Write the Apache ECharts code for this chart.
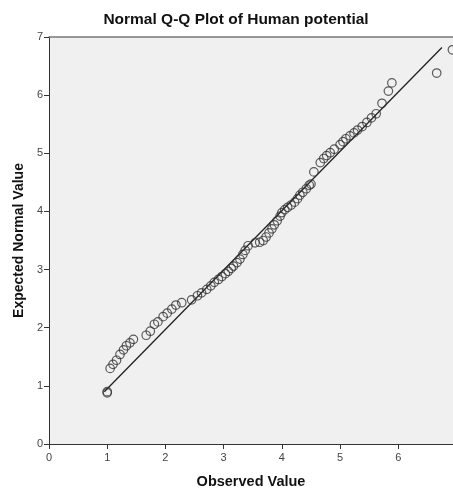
<!DOCTYPE html>
<html>
<head>
<meta charset="utf-8">
<script src="https://cdn.jsdelivr.net/npm/echarts@6/dist/echarts.min.js"></script>
<style>html,body{margin:0;padding:0;background:#fff}#c{width:453px;height:489px}</style>
</head>
<body>
<div id="c"></div>
<script>
var observed = [1.0, 1.0, 1.05, 1.10, 1.16, 1.22, 1.28, 1.33, 1.39, 1.45, 1.67, 1.74, 1.81, 1.87, 1.96, 2.03, 2.11, 2.18, 2.28, 2.45, 2.55, 2.62, 2.71, 2.78, 2.84, 2.91, 2.97, 3.03, 3.08, 3.13, 3.17, 3.23, 3.28, 3.33, 3.37, 3.42, 3.54, 3.62, 3.68, 3.73, 3.78, 3.83, 3.87, 3.92, 3.97, 4.00, 4.05, 4.10, 4.16, 4.22, 4.27, 4.31, 4.36, 4.42, 4.47, 4.50, 4.55, 4.66, 4.72, 4.77, 4.83, 4.90, 5.00, 5.05, 5.10, 5.17, 5.24, 5.30, 5.38, 5.46, 5.54, 5.62, 5.72, 5.83, 5.89, 6.66, 6.93];
var expected = [0.88, 0.90, 1.30, 1.37, 1.44, 1.54, 1.62, 1.69, 1.74, 1.80, 1.87, 1.94, 2.06, 2.10, 2.19, 2.25, 2.32, 2.39, 2.43, 2.48, 2.55, 2.60, 2.66, 2.72, 2.78, 2.83, 2.88, 2.93, 2.97, 3.02, 3.06, 3.12, 3.18, 3.26, 3.33, 3.41, 3.46, 3.47, 3.50, 3.56, 3.63, 3.70, 3.77, 3.84, 3.92, 3.98, 4.03, 4.07, 4.11, 4.16, 4.22, 4.28, 4.33, 4.39, 4.45, 4.47, 4.68, 4.84, 4.91, 4.96, 5.01, 5.07, 5.15, 5.20, 5.25, 5.30, 5.35, 5.40, 5.46, 5.53, 5.61, 5.68, 5.86, 6.07, 6.21, 6.38, 6.78];
var refLineX = [0.95, 6.75];
var refLineY = [0.90, 6.82];
var xTicks = [0, 1, 2, 3, 4, 5, 6];
var yTicks = [0, 1, 2, 3, 4, 5, 6, 7];

var pts = observed.map(function (v, i) { return [v, expected[i]]; });
var linePts = refLineX.map(function (v, i) { return [v, refLineY[i]]; });

var chart = echarts.init(document.getElementById('c'), null, {renderer: 'canvas'});
var font = 'Liberation Sans, Arial, sans-serif';
chart.setOption({
  animation: false,
  backgroundColor: '#ffffff',
  title: {
    text: 'Normal Q-Q Plot of Human potential',
    left: 231, top: 7, textAlign: 'center',
    textStyle: {fontFamily: font, fontSize: 15.5, fontWeight: 'bold', color: '#111'}
  },
  grid: {left: 49, top: 37, right: 0, bottom: 45, show: true, backgroundColor: '#f0f0f0', borderWidth: 0,
    containLabel: false, outerBoundsMode: 'none'},
  xAxis: [{
    type: 'value', min: 0, max: 6.94, interval: 1,
    name: 'Observed Value', nameLocation: 'middle', nameGap: 30,
    nameTextStyle: {fontFamily: font, fontSize: 14.5, fontWeight: 'bold', color: '#111'},
    axisLine: {show: true, lineStyle: {color: '#333', width: 1}},
    axisTick: {show: true, length: 5, lineStyle: {color: '#333'}},
    axisLabel: {fontFamily: font, fontSize: 11, color: '#444', margin: 8,
      showMaxLabel: false,
      formatter: function (v) { return xTicks.indexOf(v) >= 0 ? String(v) : ''; }},
    splitLine: {show: false}
  }, {
    type: 'value', position: 'top', min: 0, max: 6.94,
    axisLine: {show: true, onZero: false, lineStyle: {color: '#777', width: 1.5}},
    axisTick: {show: false}, axisLabel: {show: false}, splitLine: {show: false}
  }],
  yAxis: {
    type: 'value', min: 0, max: 7, interval: 1,
    name: 'Expected Normal Value', nameLocation: 'middle', nameGap: 22,
    nameTextStyle: {fontFamily: font, fontSize: 14, fontWeight: 'bold', color: '#111'},
    axisLine: {show: true, lineStyle: {color: '#333', width: 1}},
    axisTick: {show: true, length: 5, lineStyle: {color: '#333'}},
    axisLabel: {fontFamily: font, fontSize: 11, color: '#444', margin: 6,
      formatter: function (v) { return yTicks.indexOf(v) >= 0 ? String(v) : ''; }},
    splitLine: {show: false}
  },
  series: [{
    type: 'line', data: linePts, symbol: 'none', silent: true,
    lineStyle: {color: '#222', width: 1.3}, z: 2
  }, {
    type: 'scatter', data: pts, symbol: 'circle', symbolSize: 8.5, clip: false,
    itemStyle: {color: 'rgba(0,0,0,0)', borderColor: '#333', borderWidth: 1.2}, z: 3
  }]
});
</script>
</body>
</html>
